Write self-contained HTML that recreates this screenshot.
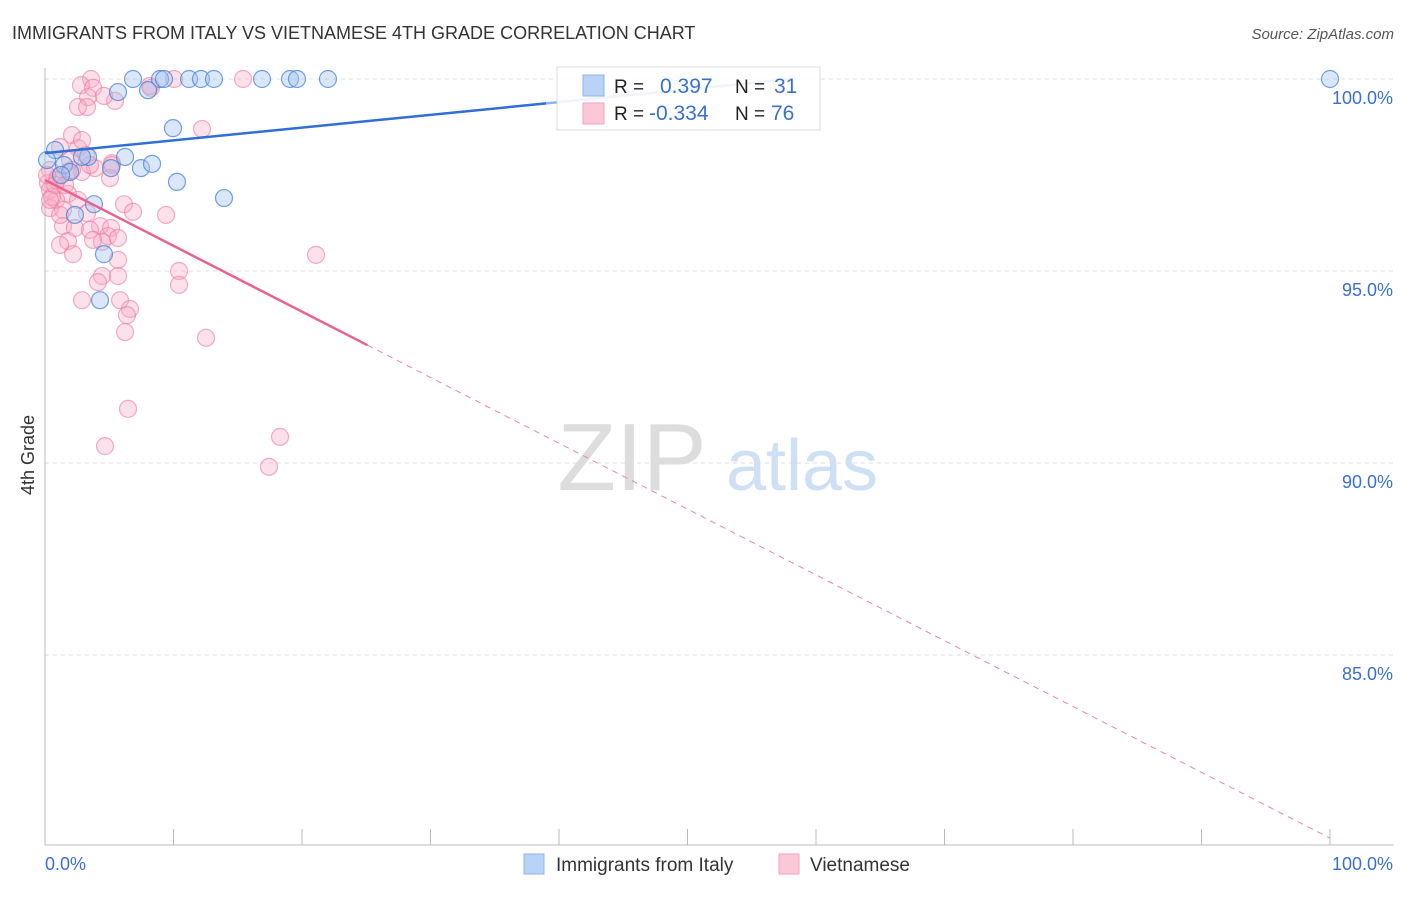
<!DOCTYPE html>
<html><head><meta charset="utf-8"><style>
body{margin:0;background:#fff;font-family:"Liberation Sans",sans-serif;}
svg text{font-family:"Liberation Sans",sans-serif;}
</style></head><body>
<svg id="chart" width="1406" height="892">
<text x="12" y="39" font-size="18" fill="#333">IMMIGRANTS FROM ITALY VS VIETNAMESE 4TH GRADE CORRELATION CHART</text>
<text x="1394" y="39" font-size="15" fill="#555" font-style="italic" text-anchor="end">Source: ZipAtlas.com</text>
<g>
<text x="632" y="490" font-size="96" fill="#ddd" font-family="Liberation Serif" text-anchor="middle">ZIP</text>
<text x="802" y="490" font-size="72" fill="#cfe0f4" text-anchor="middle">atlas</text>
</g>
<g id="grid"></g>
<g id="axes"></g>
<g id="points"></g>
<g id="lines"></g>
<g>
<rect x="557" y="67" width="263" height="63" fill="rgba(255,255,255,0.85)" stroke="#ddd"/>
<rect x="583" y="75" width="21" height="21" fill="#b8d3f5" stroke="#8db5e8"/>
<rect x="583" y="103" width="21" height="21" fill="#fcc8d8" stroke="#f3a3bc"/>
<text x="614" y="93" font-size="19" fill="#222">R =</text>
<text x="660" y="93" font-size="21" fill="#3a6fd0">0.397</text>
<text x="735" y="93" font-size="19" fill="#222">N =</text>
<text x="774" y="93" font-size="21" fill="#3a6fd0">31</text>
<text x="614" y="120" font-size="19" fill="#222">R =</text>
<text x="649" y="120" font-size="21" fill="#3a6fd0">-0.334</text>
<text x="735" y="120" font-size="19" fill="#222">N =</text>
<text x="771" y="120" font-size="21" fill="#3a6fd0">76</text>
</g>
<g>
<rect x="524" y="854" width="20" height="20" fill="#b8d3f5" stroke="#8db5e8"/>
<text x="556" y="871" font-size="19" fill="#333">Immigrants from Italy</text>
<rect x="779" y="854" width="20" height="20" fill="#fcc8d8" stroke="#f3a3bc"/>
<text x="810" y="871" font-size="19" fill="#333">Vietnamese</text>
</g>
<text transform="translate(34,455) rotate(-90)" font-size="18" fill="#333" text-anchor="middle">4th Grade</text>
</svg>
<script>
const yTicks=[100,95,90,85];
const yTickLabels=["100.0%","95.0%","90.0%","85.0%"];
const italyX=[6.85,8.95,9.26,11.21,12.14,13.15,16.89,19.07,19.61,22.02,100,5.68,8.02,9.96,0.78,3.35,6.23,7.47,8.33,10.27,13.93,1.48,1.95,1.25,2.33,3.81,4.59,4.28,5.14,0.16,2.88];
const italyY=[100,100,100,100,100,100,100,100,100,100,100,99.66,99.71,98.72,98.15,97.97,97.97,97.68,97.79,97.32,96.90,97.76,97.58,97.50,96.46,96.74,95.44,94.24,97.68,97.89,97.97];
const vietX=[3.58,10.04,15.41,2.80,3.74,8.25,3.35,2.57,3.27,5.45,2.10,12.22,1.17,2.57,3.19,1.95,5.21,3.89,1.79,0.39,1.01,5.06,0.23,0.93,0.39,1.79,2.57,0.86,6.15,1.40,0.39,3.27,6.85,9.42,4.28,5.14,1.40,2.33,3.50,4.90,5.68,1.79,1.17,4.44,2.18,21.09,10.43,4.44,5.68,4.12,10.43,2.88,5.84,6.61,6.38,6.23,12.53,6.46,18.29,4.67,17.43,0.54,0.16,0.78,1.56,2.88,3.50,5.21,2.10,0.39,4.59,2.88,1.17,3.74,5.68,8.17];
const vietY=[100,100,100,99.84,99.77,99.77,99.53,99.27,99.27,99.43,98.54,98.70,98.23,98.20,98.02,97.89,97.81,97.68,97.58,97.63,97.45,97.42,97.29,97.37,97.11,97.01,96.85,96.85,96.74,96.59,96.64,96.51,96.54,96.46,96.17,96.12,96.17,96.12,96.07,95.91,95.86,95.78,95.68,95.76,95.44,95.42,95.0,94.87,94.87,94.71,94.64,94.24,94.24,94.01,93.85,93.41,93.26,91.41,90.68,90.44,89.90,96.93,97.50,97.24,97.24,97.58,97.76,97.76,97.63,96.85,99.56,98.41,96.46,95.81,95.29,99.82];
const italyTrend=[98.07,0.0332];
const vietTrend=[97.37,-0.1714];
const NS="http://www.w3.org/2000/svg";
const X=v=>45+v*12.85, Y=v=>79+(100-v)*38.4;
function mk(tag,attrs,parent){const e=document.createElementNS(NS,tag);for(const k in attrs)e.setAttribute(k,attrs[k]);parent.appendChild(e);return e;}
const grid=document.getElementById('grid'),axes=document.getElementById('axes'),pts=document.getElementById('points'),lines=document.getElementById('lines');
yTicks.forEach((t,i)=>{
 const l=mk('line',{x1:45,x2:1394,y1:Y(t),y2:Y(t),stroke:'#ddd','stroke-dasharray':'4,4'},grid);
 
 
 const tx=mk('text',{x:1393,y:Y(t)+25,'font-size':18,fill:'#3a6fd0','text-anchor':'end'},axes);
 tx.textContent=yTickLabels[i];
 
 
});
let a=mk('line',{x1:45,x2:45,y1:68,y2:845,stroke:'#bbb'},axes);


a=mk('line',{x1:45,x2:1394,y1:845,y2:845,stroke:'#bbb'},axes);


for(let i=0;i<=10;i++){const t=mk('line',{x1:X(i*10),x2:X(i*10),y1:829,y2:845,stroke:'#bbb'},axes);
 
 }
let xl=mk('text',{x:45,y:870,'font-size':18,fill:'#3a6fd0'},axes);xl.textContent='0.0%';


xl=mk('text',{x:1393,y:870,'font-size':18,fill:'#3a6fd0','text-anchor':'end'},axes);xl.textContent='100.0%';


vietX.forEach((v,i)=>{const c=mk('circle',{cx:X(v),cy:Y(vietY[i]),r:8.5,fill:'rgba(248,170,195,0.35)',stroke:'rgba(235,120,160,0.6)','stroke-width':1.2},pts);
 
 });
italyX.forEach((v,i)=>{const c=mk('circle',{cx:X(v),cy:Y(italyY[i]),r:8.5,fill:'rgba(160,195,240,0.4)',stroke:'rgba(70,130,215,0.75)','stroke-width':1.2},pts);
 
 });
const f=(t,x)=>t[0]+t[1]*x;
let tl=mk('line',{x1:X(0),y1:Y(f(italyTrend,0)),x2:X(39),y2:Y(f(italyTrend,39)),stroke:'#2f6fd6','stroke-width':2.5},lines);


tl=mk('line',{x1:X(39),y1:Y(f(italyTrend,39)),x2:X(58),y2:Y(f(italyTrend,58)),stroke:'#8fb6ec','stroke-width':2.5},lines);


tl=mk('line',{x1:X(0),y1:Y(f(vietTrend,0)),x2:X(25.1),y2:Y(f(vietTrend,25.1)),stroke:'#e8638f','stroke-width':2.5},lines);


tl=mk('line',{x1:X(25.1),y1:Y(f(vietTrend,25.1)),x2:X(100),y2:Y(f(vietTrend,100)),stroke:'#eb87a8','stroke-width':1,'stroke-dasharray':'6,5'},lines);


</script>
</body></html>
